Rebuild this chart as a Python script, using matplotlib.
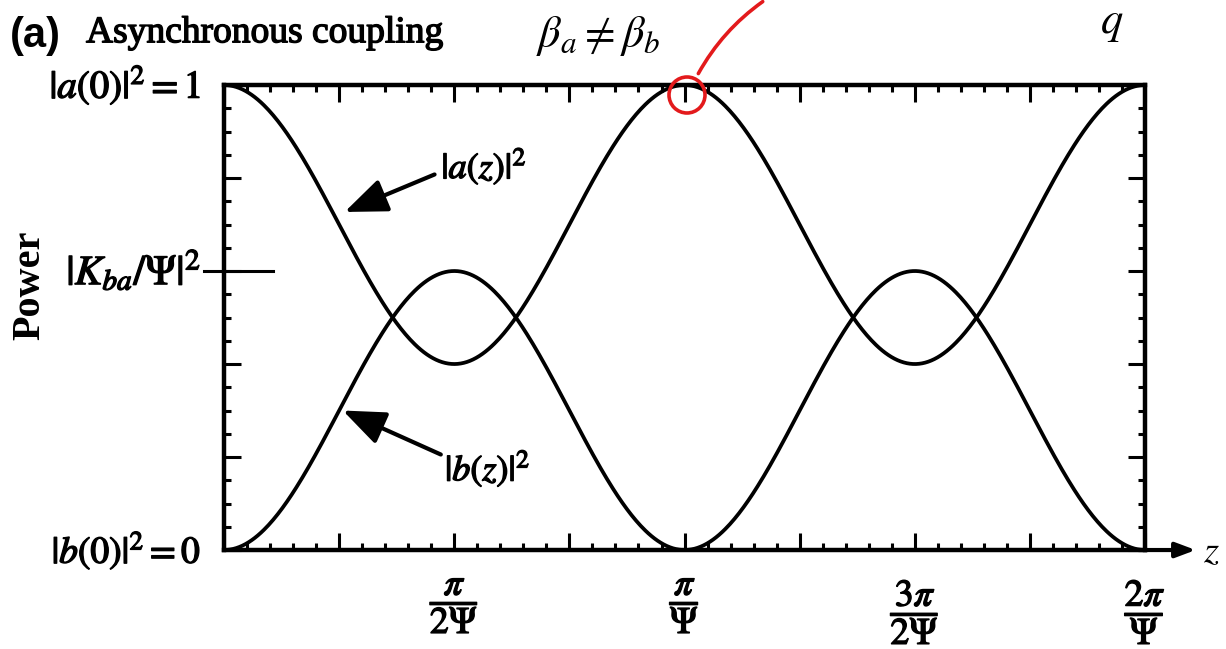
import matplotlib.pyplot as plt
import matplotlib.patheffects as pe
import numpy as np
from matplotlib.patches import Ellipse, FancyArrowPatch
from matplotlib.ticker import MultipleLocator

plt.rcParams["mathtext.fontset"] = "stix"
plt.rcParams["font.family"] = ["Liberation Serif", "DejaVu Serif"]

# normalised coupling: peak transfer |K_ba/Psi|^2 and propagation range in units of 1/Psi
PEAK_TRANSFER = 0.6
Z_MAX = 2 * np.pi
Z_TICKS = [np.pi / 2, np.pi, 3 * np.pi / 2, 2 * np.pi]
Z_TICK_LABELS = [r"$\dfrac{\pi}{2\Psi}$", r"$\dfrac{\pi}{\Psi}$", r"$\dfrac{3\pi}{2\Psi}$", r"$\dfrac{2\pi}{\Psi}$"]
POWER_TICKS = [0.0, 0.6, 1.0]
POWER_LABELS = [r"$|b(0)|^2 = 0$", r"$|K_{ba}/\Psi|^2$", r"$|a(0)|^2 = 1$"]
POWER_LABEL_SIZES = [27, 30, 28]

bold = [pe.withStroke(linewidth=1.0, foreground="black")]

z = np.linspace(0, Z_MAX, 600)
power_b = PEAK_TRANSFER * np.sin(z) ** 2
power_a = 1 - power_b

fig = plt.figure(figsize=(12.26, 6.49), dpi=100)
ax = fig.add_axes([0.1827, 0.1525, 0.7513, 0.7165])
ax.plot(z, power_a, color="black", lw=2.7)
ax.plot(z, power_b, color="black", lw=2.7)
ax.set_xlim(0, Z_MAX)
ax.set_ylim(0, 1)

for side in ax.spines.values():
    side.set_linewidth(3.2)

ax.xaxis.set_major_locator(MultipleLocator(np.pi / 4))
ax.xaxis.set_minor_locator(MultipleLocator(np.pi / 20))
ax.yaxis.set_major_locator(MultipleLocator(0.2))
ax.yaxis.set_minor_locator(MultipleLocator(0.05))
ax.tick_params(which="both", direction="in", top=True, right=True, width=2.2,
               labelbottom=False, labelleft=False)
ax.tick_params(which="major", length=12)
ax.tick_params(which="minor", length=5)

for zt, lab in zip(Z_TICKS, Z_TICK_LABELS):
    ax.text(zt, -0.055, lab, ha="center", va="top", fontsize=27, path_effects=bold)
for pt, lab, size in zip(POWER_TICKS, POWER_LABELS, POWER_LABEL_SIZES):
    ax.text(-0.025, pt, lab, transform=ax.get_yaxis_transform(), ha="right", va="center",
            fontsize=size, path_effects=bold)

# reference level for the peak transfer, crossing the left spine
ax.plot([-0.022, 0.053], [PEAK_TRANSFER, PEAK_TRANSFER], transform=ax.get_yaxis_transform(),
        color="black", lw=2.2, clip_on=False)

# z axis arrow running past the frame
ax.annotate("", xy=(1.058, 0), xytext=(0.99, 0), xycoords="axes fraction",
            arrowprops=dict(arrowstyle="-|>,head_length=1.2,head_width=0.45", color="black", lw=3),
            annotation_clip=False)
fig.text(1203 / 1226, 1 - 553 / 649, r"$z$", fontsize=28, ha="left", va="center")

ax.annotate(r"$|a(z)|^2$", xy=(0.131, 0.727), xytext=(0.236, 0.825), xycoords="axes fraction",
            fontsize=26, ha="left", va="center", path_effects=bold,
            arrowprops=dict(arrowstyle="-|>,head_length=1.0,head_width=0.4", color="black", lw=3.0,
                            shrinkA=0, shrinkB=0, relpos=(-0.08, 0.3)))
ax.annotate(r"$|b(z)|^2$", xy=(0.129, 0.3), xytext=(0.24, 0.175), xycoords="axes fraction",
            fontsize=26, ha="left", va="center", path_effects=bold,
            arrowprops=dict(arrowstyle="-|>,head_length=1.0,head_width=0.4", color="black", lw=3.0,
                            shrinkA=0, shrinkB=0, relpos=(-0.05, 0.85)))

fig.text(0.024, 1 - 285 / 649, "Power", rotation=90, fontsize=29, fontweight="bold",
         ha="center", va="center")

fig.text(10 / 1226, 1 - 36 / 649, "(a)", fontsize=30, fontweight="bold",
         family="Liberation Sans", ha="left", va="center")
fig.text(86 / 1226, 1 - 33 / 649, "Asynchronous coupling", fontsize=27, ha="left", va="center",
         path_effects=bold)
fig.text(536 / 1226, 1 - 36 / 649, r"$\beta_a \neq \beta_b$", fontsize=32, ha="left", va="center")
fig.text(1100 / 1226, 1 - 4 / 649, r"$q$", fontsize=32, ha="left", va="top")

# highlighted maximum of |a|^2 with its callout line
circle = Ellipse((687 / 1226, 1 - 95 / 649), 36 / 1226, 36 / 649, transform=fig.transFigure,
                 fill=False, edgecolor="#e31a1c", lw=2.6)
fig.add_artist(circle)
callout = FancyArrowPatch((697 / 1226, 1 - 76 / 649), (765 / 1226, 1.0), transform=fig.transFigure,
                          connectionstyle="arc3,rad=-0.12", arrowstyle="-", color="#e31a1c", lw=2.6)
fig.add_artist(callout)

fig.savefig("out.png", dpi=100, facecolor="white")
